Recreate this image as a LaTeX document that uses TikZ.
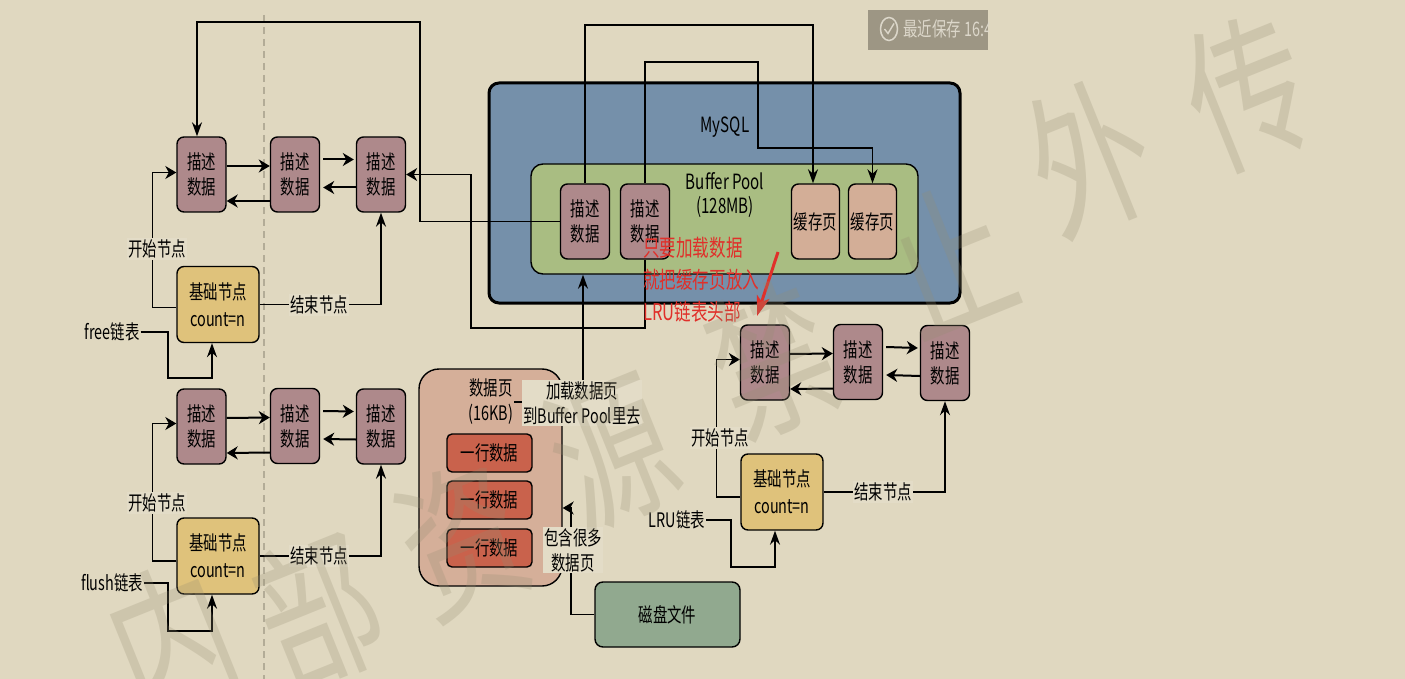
\documentclass[tikz,border=0pt]{standalone}
\usepackage{fontspec}
\setmainfont{Noto Sans CJK SC}[FakeStretch=0.72]
\newfontfamily\wmfont{Noto Sans CJK SC}[FakeStretch=0.74]
\usetikzlibrary{arrows.meta}
\definecolor{bgc}{HTML}{E0D8C0}
\definecolor{lblbg}{HTML}{E3DCC7}
\definecolor{purp}{HTML}{AE898B}
\definecolor{yell}{HTML}{DFC27B}
\definecolor{mysqlc}{HTML}{7590AA}
\definecolor{bpc}{HTML}{A9BD82}
\definecolor{cachec}{HTML}{D3AE97}
\definecolor{dpc}{HTML}{D5AF99}
\definecolor{rowc}{HTML}{C9624C}
\definecolor{diskc}{HTML}{91A98F}
\definecolor{redt}{HTML}{E0302A}
\definecolor{dashc}{HTML}{B3AC97}
\definecolor{badgec}{HTML}{9D9684}
\definecolor{badget}{HTML}{DCD7CA}
\definecolor{wmc}{HTML}{958D72}
\tikzset{
  hA/.tip={Stealth[length=11pt,width=13pt,inset=3.5pt]},
  vA/.tip={Stealth[length=14pt,width=10pt,inset=4.5pt]},
  nd/.style={draw=black, line width=1.4pt, rounded corners=7pt, inner sep=0pt, align=center,
    font={\fontsize{20}{25}\selectfont}},
  desc/.style={nd, fill=purp, minimum width=49pt, minimum height=75pt},
  basen/.style={nd, fill=yell, minimum width=82pt, minimum height=76pt, font={\fontsize{20}{27}\selectfont}},
  cache/.style={nd, fill=cachec, minimum width=48pt, minimum height=75pt},
  rown/.style={nd, fill=rowc, minimum width=85pt, minimum height=38pt, rounded corners=5pt},
  lab/.style={fill=lblbg, inner sep=1.5pt, align=center, font={\fontsize{20}{25}\selectfont}},
  txt/.style={inner sep=1pt, align=center, font={\fontsize{20}{25}\selectfont}},
  link/.style={draw=black, line width=1.4pt},
  arr/.style={draw=black, line width=2pt},
  wm/.style={font={\wmfont\fontsize{160}{160}\selectfont}, text=wmc, text opacity=0.25, inner sep=0pt, rotate=22}
}
\begin{document}
\begin{tikzpicture}[x=1pt,y=-1pt]
\useasboundingbox (0,0) rectangle (1405,679);
\fill[bgc] (0,0) rectangle (1405,679);
% dashed divider
\draw[dashc, line width=1.3pt, dash pattern=on 7pt off 5pt] (264,15) -- (264,679);
% badge
\fill[badgec] (868,10) rectangle (988,50);
\draw[badget, line width=1.5pt] (889,29) ellipse [x radius=8.5, y radius=11.5];
\draw[badget, line width=1.4pt] (884.5,29) -- (888,33.5) -- (894,23.5);
\begin{scope}
\clip (868,10) rectangle (988,50);
\node[anchor=west, inner sep=0pt, text=badget, font={\fontsize{20}{24}\selectfont}] (badge) at (903,29) {最近保存 16:4};
\end{scope}
% MySQL container
\node[draw=black, line width=3pt, rounded corners=10pt, fill=mysqlc, minimum width=471pt, minimum height=220pt, inner sep=0pt] (mysql) at (724.5,193) {};
\node[txt, font={\fontsize{21}{25}\selectfont}] (mysqllbl) at (725,127) {MySQL};
\node[nd, fill=bpc, minimum width=387pt, minimum height=110pt, rounded corners=12pt] (bp) at (724.5,219) {};
\node[txt, font={\fontsize{21}{24}\selectfont}] (bplbl) at (725,195) {Buffer Pool\\(128MB)};
\node[desc] (P1) at (585,221.5) {描述\\数据};
\node[desc] (P2) at (645,221.5) {描述\\数据};
\node[cache] (C1) at (815.5,221.5) {缓存页};
\node[cache] (C2) at (872.5,221.5) {缓存页};
% free list group
\node[desc] (A1) at (201.5,174.5) {描述\\数据};
\node[desc] (A2) at (295,174.5) {描述\\数据};
\node[desc] (A3) at (381,174.5) {描述\\数据};
\node[basen] (B1) at (218,304.5) {基础节点\\count=n};
% flush list group
\node[desc] (F1) at (201.5,426.5) {描述\\数据};
\node[desc] (F2) at (295,426) {描述\\数据};
\node[desc] (F3) at (381,426.5) {描述\\数据};
\node[basen] (FB) at (218,556) {基础节点\\count=n};
% LRU group
\node[desc] (L1) at (765,362.5) {描述\\数据};
\node[desc] (L2) at (858,362) {描述\\数据};
\node[desc] (L3) at (945,363) {描述\\数据};
\node[basen] (LB) at (782,492) {基础节点\\count=n};
% data page
\node[nd, fill=dpc, minimum width=143pt, minimum height=217pt, rounded corners=20pt] (DP) at (490.5,477.5) {};
\node[txt] (dplbl) at (491,402) {数据页\\(16KB)};
\node[rown] (R1) at (489.5,453) {一行数据};
\node[rown] (R2) at (489.5,500) {一行数据};
\node[rown] (R3) at (489.5,548) {一行数据};
\node[nd, fill=diskc, minimum width=145pt, minimum height=65pt, rounded corners=8pt] (disk) at (667.5,614.5) {磁盘文件};
% list labels
\node[txt] (freelbl) at (112,332) {free链表};
\node[txt] (flushlbl) at (112,583) {flush链表};
\node[txt] (lrulbl) at (677,520) {LRU链表};

% arrows between descriptor nodes
\foreach \a/\b in {A1/A2,F1/F2,L1/L2}{
  \draw[arr,-{hA}] ([yshift=8.5pt]\a.east) -- ([yshift=8.5pt]\b.west);
  \draw[arr,-{hA}] ([yshift=-26.5pt]\b.west) -- ([yshift=-26.5pt]\a.east);
}
\foreach \a/\b in {A2/A3,F2/F3,L2/L3}{
  \draw[arr,-{hA}] ([yshift=15pt,xshift=3pt]\a.east) -- ([yshift=15pt,xshift=-2pt]\b.west);
  \draw[arr,-{hA}] ([yshift=-13pt]\b.west) -- ([yshift=-13pt,xshift=3pt]\a.east);
}
% start / end connectors
\draw[link,-{hA}] ([yshift=-3pt]B1.west) -- ++(-24,0) |- ([yshift=2pt]A1.west);
\draw[link,-{vA}] (B1.east) -| (A3.south);
\draw[link,-{hA}] ([yshift=-5pt]FB.west) -- ++(-24,0) |- ([yshift=3pt]F1.west);
\draw[link,-{vA}] (FB.east) -| (F3.south);
\draw[link,-{hA}] ([yshift=-5pt]LB.west) -- ++(-24,0) |- ([yshift=3pt]L1.west);
\draw[link,-{vA}] (LB.east) -| (L3.south);
% list entry connectors
\draw[link,-{vA}] (freelbl.east) -- (168,332) -- (168,378) -- (212,378) -- (B1.south -| 212,0);
\draw[link,-{vA}] (flushlbl.east) -- (168,583) -- (168,631) -- (212,631) -- (FB.south -| 212,0);
\draw[link,-{vA}] (lrulbl.east) -- (731,520) -- (731,567) -- (775,567) -- (LB.south -| 775,0);
% buffer pool connectors
\draw[link,-{vA}] (P1.west) -- (420,221.5) -- (420,22) -| ([xshift=-4.5pt]A1.north);
\draw[link,-{hA}] (P2.south) -- (645,328) -- (471,328) |- (A3.east);
\draw[link,-{vA}] (P1.north) -- (585,25) -| ([xshift=-2.5pt]C1.north);
\draw[link,-{vA}] (P2.north) -- (645,62) -- (758,62) -- (758,148) -| (C2.north);
\draw[link,-{vA}] (dplbl.east) -- (583,402) -- (bp.south -| 583,0);
\draw[link,-{hA}] (disk.west) -- (571,614.5) -- (571,508) -- ([yshift=-30.5pt]DP.east);
% connector labels
\node[lab] (s1) at (157,249) {开始节点};
\node[lab] (e1) at (319,305) {结束节点};
\node[lab] (s2) at (157,503) {开始节点};
\node[lab] (e2) at (319,556) {结束节点};
\node[lab] (s3) at (720,438) {开始节点};
\node[lab] (e3) at (883,492) {结束节点};
\node[lab] (load) at (582,403) {加载数据页\\到Buffer Pool里去};
\node[lab] (contain) at (573,550) {包含很多\\数据页};
% red annotation
\node[anchor=west, inner sep=0pt, align=left, text=redt, font={\fontsize{23}{32}\selectfont}] (note) at (643,280) {只要加载数据\\就把缓存页放入\\LRU链表头部};
\coordinate (ra) at (778,252);
\coordinate (rb) at (757,316);
\draw[redt, line width=3pt, -{Stealth[length=20pt,width=13pt,inset=5pt]}] (ra) -- (rb);
% watermark
\node[wm] (w1) at (172,640) {内};
\node[wm] (w2) at (318,610) {部};
\node[wm] (w3) at (462,540) {资};
\node[wm] (w4) at (612,452) {源};
\node[wm] (w5) at (772,360) {禁};
\node[wm] (w6) at (948,258) {止};
\node[wm] (w7) at (1090,158) {外};
\node[wm] (w8) at (1248,92) {传};
\end{tikzpicture}
\end{document}
